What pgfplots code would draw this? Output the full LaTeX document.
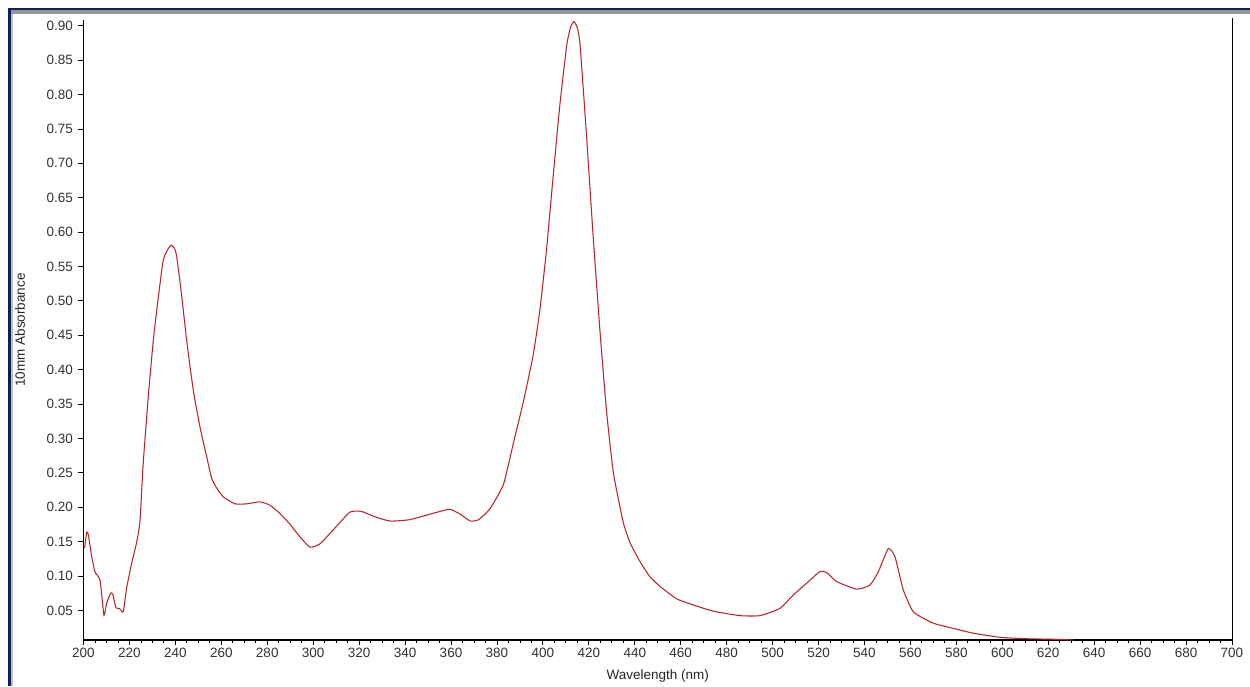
\documentclass[border=0pt]{standalone}
\usepackage{pgfplots}
\pgfplotsset{compat=1.18}
\usepackage{fontspec}
\setmainfont{Liberation Sans}
\definecolor{spec}{RGB}{185,35,45}
\definecolor{navyframe}{RGB}{12,30,95}
\definecolor{grayframe}{RGB}{150,150,150}
\begin{document}
\begin{tikzpicture}[x=1pt,y=1pt]
\useasboundingbox (0,0) rectangle (1250,686);
\fill[white] (0,0) rectangle (1250,686);
% window frame
\fill[navyframe] (8,676) rectangle (1250,678);
\fill[grayframe] (11,672) rectangle (1250,676);
\fill[navyframe] (8,0) rectangle (11,678);
\fill[grayframe!60] (11,0) rectangle (13,672);
\begin{axis}[
  at={(83.5pt,46pt)}, anchor=south west,
  scale only axis, width=1148.5pt, height=620pt,
  xmin=200, xmax=700, ymin=0.0071, ymax=0.9083,
  axis x line*=bottom, axis y line*=left,
  axis line style={line width=1.3pt, -},
  tick align=outside,
  xtick={200,220,...,700},
  minor x tick num=3,
  ytick={0.05,0.10,...,0.901},
  major tick length=5pt, minor tick length=3pt,
  tick style={black, line width=0.8pt},
  /pgf/number format/assume math mode=true,
  yticklabel style={/pgf/number format/.cd, fixed, fixed zerofill, precision=2, /tikz/.cd, xshift=-2pt},
  xticklabel style={/pgf/number format/.cd, fixed, 1000 sep={}},
  ticklabel style={font=\fontsize{13.5}{15}\selectfont, text=black!80},
  xlabel={Wavelength (nm)},
  ylabel={10mm Absorbance},
  label style={font=\fontsize{13.5}{15}\selectfont, text=black!85},
  xlabel style={at={(axis description cs:0.5,0)}, anchor=center, yshift=-36pt},
  ylabel style={at={(axis description cs:-0.0553,0.5)}, anchor=center},
  clip=false,
]
\draw[black, line width=0.8pt] (rel axis cs:1,0) -- (rel axis cs:1,1.003);
\addplot[spec, line width=1.05pt, smooth, tension=0.3] table {
x y
200.5 0.141
201.4 0.164
202.1 0.160
203.5 0.130
205 0.106
207.2 0.094
208.9 0.043
210.1 0.061
211.8 0.075
212.7 0.074
214.1 0.054
215.6 0.053
217.3 0.048
218.8 0.083
221 0.119
223.2 0.150
224.6 0.180
226 0.264
228.2 0.361
230.4 0.443
232.6 0.506
234.7 0.559
236.9 0.576
238.3 0.581
239.7 0.576
240.6 0.564
242.8 0.506
244.9 0.443
247.8 0.370
250.7 0.317
253.6 0.274
255.8 0.242
258 0.228
260.9 0.215
266 0.205
271 0.205
276.8 0.208
281.2 0.203
285.5 0.191
290 0.175
294 0.158
298.6 0.142
303 0.147
309.5 0.170
316 0.193
321 0.194
327 0.186
333.5 0.180
342 0.182
353 0.192
359.5 0.197
364 0.190
368.4 0.180
372 0.182
377 0.198
382.8 0.233
387 0.291
391.4 0.352
395.7 0.420
398.7 0.487
401.6 0.575
404.5 0.682
407.4 0.785
410.4 0.872
412 0.897
413.5 0.906
415 0.897
416.2 0.872
419 0.740
421.9 0.593
424.9 0.454
427.8 0.337
430.7 0.250
435 0.178
438 0.148
442.3 0.121
446.6 0.099
451 0.085
458.2 0.067
465.5 0.058
474.2 0.049
485.8 0.0425
494.5 0.0425
503.2 0.053
509 0.0725
514.8 0.0895
520.6 0.1065
523.6 0.105
527.9 0.092
536.6 0.081
542.4 0.087
546 0.106
550.4 0.140
553.3 0.128
556.9 0.080
561.3 0.048
570 0.0315
581.6 0.0216
587.4 0.017
599 0.011
610 0.009
625 0.008
631 0.007
};
\end{axis}
\end{tikzpicture}
\end{document}
